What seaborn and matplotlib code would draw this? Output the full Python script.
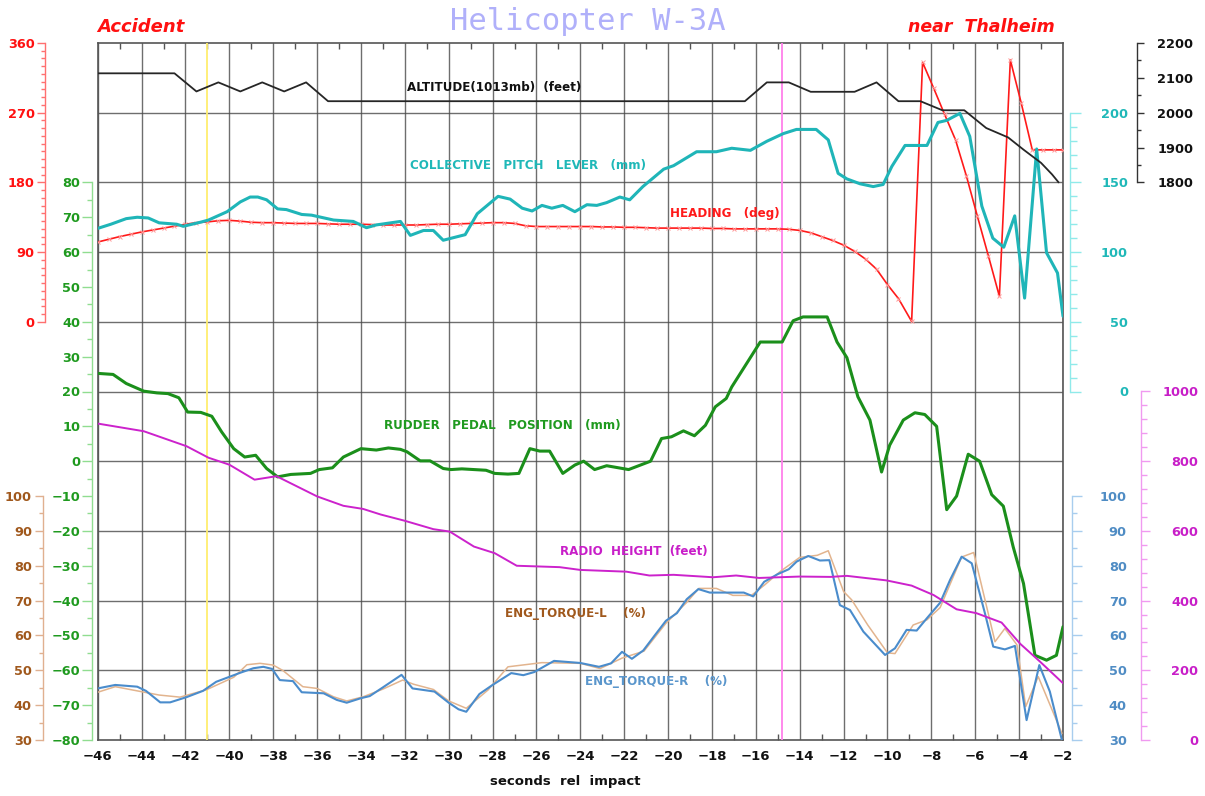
import numpy as np
import matplotlib
matplotlib.use("Agg")
import matplotlib.pyplot as plt
from matplotlib.ticker import FixedLocator
import seaborn as sns

# ---------------- data ----------------
ALT_T = [-46, -42.5, -41.5, -40.5, -39.5, -38.5, -37.5, -36.5, -35.5, -16.5, -15.5, -14.5,
         -13.5, -11.5, -10.5, -9.5, -8.5, -7.5, -6.5, -5.5, -4.5, -3.8, -3.0, -2.5, -2.2]
ALT = [2113, 2113, 2061, 2087, 2061, 2087, 2061, 2087, 2033, 2033, 2087, 2087,
       2060, 2060, 2087, 2033, 2033, 2007, 2007, 1956, 1929, 1894, 1856, 1823, 1800]

HDG_T = [-46.0, -45.5, -45.0, -44.5, -44.0, -43.5, -43.0, -42.5, -42.0, -41.5, -41.0, -40.5,
         -40.0, -39.5, -39.0, -38.5, -38.0, -37.5, -37.0, -36.5, -36.0, -35.5, -35.0, -34.5,
         -34.0, -33.5, -33.0, -32.5, -32.0, -31.5, -31.0, -30.5, -30.0, -29.5, -29.0, -28.5,
         -28.0, -27.5, -27.0, -26.5, -26.0, -25.5, -25.0, -24.5, -24.0, -23.5, -23.0, -22.5,
         -22.0, -21.5, -21.0, -20.5, -20.0, -19.5, -19.0, -18.5, -18.0, -17.5, -17.0, -16.5,
         -16.0, -15.5, -15.0, -14.5, -14.0, -13.5, -13.0, -12.5, -12.0, -11.5, -11.0, -10.5,
         -10.0, -9.5, -8.9, -8.4, -7.9, -7.4, -6.9, -6.4, -5.9, -5.4, -4.9, -4.4, -3.9, -3.4,
         -2.9, -2.4, -2.0]
HDG = [103, 106.5, 110, 113, 116, 118.5, 121, 123.5, 126, 128, 129, 130.5,
       131, 130, 128.5, 128, 128, 127.5, 127, 127, 127, 126.5, 126, 126,
       126, 125.5, 125, 125, 125, 125, 125.5, 126, 126, 126.5, 127, 127.5,
       128, 128, 127, 124, 123, 123, 123, 123, 123, 123, 122.5, 122.5,
       122, 122, 121.5, 121, 121, 121, 121, 121, 120.5, 120.5, 120, 120,
       120, 120, 120, 119.5, 118, 115, 110, 105, 99, 91, 81, 68,
       48, 30, 0.5, 335, 302, 268, 235, 188, 136, 85, 33, 338, 282, 222,
       222, 222, 222]

COL_T = [-46, -45.4, -44.7, -44.2, -43.7, -43.2, -42.4, -42.1, -41.3, -40.95, -40.1, -39.5,
         -39.05, -38.7, -38.3, -37.8, -37.4, -36.7, -36.25, -35.25, -34.35, -33.75, -33.3,
         -32.2, -31.75, -31.15, -30.7, -30.25, -29.25, -28.7, -27.75, -27.2, -26.65, -26.2,
         -25.75, -25.3, -24.8, -24.25, -23.7, -23.25, -22.8, -22.2, -21.75, -21.15, -20.2,
         -19.75, -18.7, -17.8, -17.1, -16.25, -15.5, -14.75, -14.15, -13.25, -12.7, -12.25,
         -11.85, -11.25, -10.65, -10.2, -9.8, -9.2, -8.2, -7.7, -7.3, -6.7, -6.25, -5.7,
         -5.2, -4.7, -4.2, -3.75, -3.2, -2.75, -2.25, -2.0]
COL = [117, 120, 124, 125, 124.5, 121, 120, 118.5, 121.5, 123, 129, 136,
       139.5, 139.5, 137.5, 131, 130.5, 127, 126.5, 123, 122, 117.5, 119.5,
       122, 112, 115.5, 115.5, 108.5, 112.5, 127.5, 140, 138, 131.5, 129.5,
       133.5, 131.5, 133.5, 129, 134, 133.5, 135.5, 139.5, 137.5, 147, 159.5,
       162, 172, 172, 174.5, 173, 179.5, 185, 188, 188, 180.5, 156.5,
       152.5, 149, 147, 148.5, 161.5, 176.5, 176.5, 193, 194.5, 199.5, 183, 133,
       110, 103.5, 126, 67, 174, 99.5, 85, 54]

RUD_T = [-46, -45.3, -44.7, -43.9, -43.3, -42.8, -42.3, -41.9, -41.3, -40.8, -40.35, -39.8,
         -39.3, -38.8, -38.3, -37.8, -37.2, -36.3, -35.9, -35.3, -34.8, -34.0, -33.3, -32.75,
         -32.2, -31.9, -31.3, -30.85, -30.25, -29.9, -29.4, -28.3, -27.9, -27.3, -26.8, -26.3,
         -25.85, -25.4, -24.8, -24.25, -23.85, -23.35, -22.8, -21.8, -20.8, -20.3, -19.85,
         -19.3, -18.8, -18.3, -17.85, -17.35, -17.1, -15.8, -14.8, -14.3, -13.85, -12.75,
         -12.3, -11.85, -11.35, -10.8, -10.27, -9.9, -9.28, -8.75, -8.3, -7.76, -7.3, -6.85,
         -6.32, -5.8, -5.25, -4.72, -4.27, -3.8, -3.28, -2.75, -2.3, -2.0]
RUD = [25.2, 24.9, 22.3, 20.1, 19.6, 19.4, 18.2, 14.1, 14.0, 12.9, 8.4, 3.6,
       1.2, 1.7, -2.1, -4.5, -3.8, -3.5, -2.4, -1.9, 1.2, 3.6, 3.2, 3.8,
       3.4, 2.7, 0.1, 0.1, -2.1, -2.4, -2.2, -2.6, -3.5, -3.7, -3.5, 3.6,
       2.9, 2.9, -3.5, -1.1, 0.0, -2.4, -1.3, -2.4, 0.0, 6.5, 7.0,
       8.7, 7.3, 10.3, 15.6, 18.0, 21.3, 34.2, 34.2, 40.3, 41.4, 41.4,
       34.2, 29.7, 18.5, 11.8, -3.1, 4.6, 11.8, 13.9, 13.4, 10.0, -13.9, -10.0,
       2.0, 0.0, -9.6, -12.9, -24.6, -35.1, -55.7, -57.1, -55.7, -47.5]

RAD_T = [-46, -43.9, -41.95, -40.95, -40.0, -38.85, -37.85, -36.0, -34.8, -33.9, -33.1, -32.0,
         -30.7, -29.95, -28.85, -27.9, -26.9, -24.95, -24.0, -21.9, -20.85, -19.75, -17.95,
         -16.9, -15.85, -14.0, -12.6, -11.85, -10.05, -8.9, -7.9, -6.85, -5.95, -4.8, -3.95,
         -3.05, -2.0]
RAD = [908, 886, 843, 810, 790, 747, 757, 699, 672, 663, 647, 629,
       605, 598, 555, 536, 500, 496, 488, 483, 472, 474, 467,
       472, 465, 469, 468, 471, 458, 443, 416, 375, 364, 337, 276,
       225, 163]

TQR_T = [-46, -45.2, -44.2, -43.8, -43.15, -42.7, -41.95, -41.2, -40.6, -39.5, -38.9, -38.45,
         -38.05, -37.7, -37.1, -36.7, -35.7, -35.1, -34.65, -34.0, -33.6, -33.0, -32.15,
         -31.65, -30.65, -30.0, -29.55, -29.2, -28.6, -28.0, -27.15, -26.6, -26.1, -25.2,
         -24.0, -23.15, -22.6, -22.1, -21.65, -21.13, -20.6, -20.1, -19.6, -19.15, -18.62,
         -18.1, -17.3, -16.55, -16.12, -15.62, -15.0, -14.5, -14.14, -13.61, -13.08, -12.65,
         -12.17, -11.71, -11.1, -10.11, -9.66, -9.13, -8.67, -8.21, -7.6, -7.15, -6.62,
         -6.16, -5.56, -5.18, -4.65, -4.19, -3.66, -3.08, -2.6, -2.05]
TQR = [44.8, 45.8, 45.3, 44.1, 40.8, 40.8, 42.3, 44.1, 46.7, 49.3, 50.6, 51.0,
       50.4, 47.2, 46.9, 43.7, 43.4, 41.5, 40.7, 42.0, 42.6, 45.1, 48.7,
       44.8, 43.9, 40.7, 38.8, 38.1, 43.2, 45.8, 49.2, 48.6, 49.5, 52.7,
       52.1, 51.0, 52.0, 55.3, 53.3, 55.7, 60.1, 64.2, 66.4, 70.4, 73.3,
       72.3, 72.3, 72.3, 71.2, 75.4, 77.6, 79.0, 81.2, 82.8, 81.5, 81.6,
       68.7, 67.3, 61.1, 54.4, 56.3, 61.6, 61.4, 64.9, 69.4, 75.9, 82.6,
       80.7, 66.4, 56.8, 56.0, 57.0, 35.7, 51.5, 43.9, 30.0]

TQL_T = [-46, -45.2, -44.2, -43.2, -42.25, -41.05, -39.8, -39.2, -38.6, -38.0, -37.55, -36.65,
         -36.0, -35.25, -34.65, -33.9, -33.0, -32.1, -31.6, -30.7, -30.0, -29.2, -28.2, -27.3,
         -25.75, -24.0, -23.1, -22.1, -21.6, -21.1, -20.1, -19.15, -18.6, -17.8, -17.05,
         -16.2, -15.6, -14.9, -14.0, -13.2, -12.7, -12.0, -11.63, -10.9, -10.0, -9.66, -8.83,
         -8.2, -7.6, -6.62, -6.07, -5.1, -4.65, -4.1, -3.7, -3.13, -2.05]
TQL = [43.7, 45.3, 44.1, 42.9, 42.3, 44.4, 48.0, 51.6, 52.0, 51.5, 49.9, 45.3,
       44.8, 42.4, 41.2, 42.4, 44.6, 47.2, 46.0, 44.5, 41.2, 39.1, 44.4, 51.0,
       52.2, 52.0, 50.5, 53.5, 54.5, 55.5, 63.5, 69.5, 73.5, 73.5, 71.5,
       71.5, 74.5, 78.3, 82.4, 83.0, 84.3, 72.6, 70.2, 63.0, 55.0, 54.8, 63.0,
       64.5, 68.0, 82.5, 83.8, 58.2, 62.0, 57.3, 39.6, 48.2, 31.9]

EVENT_LINES = [-41.0, -14.8]
X_TICKS = list(range(-46, -1, 2))

TITLE = "Helicopter W-3A"
LEFT_NOTE = "Accident"
RIGHT_NOTE = "near  Thalheim"
XLABEL = "seconds  rel  impact"

# ---------------- figure ----------------
sns.set_style("white")
plt.rcParams['font.family'] = ['DejaVu Sans']
plt.rcParams['axes.unicode_minus'] = True

W, H = 1205, 796
fig = plt.figure(figsize=(W / 100, H / 100), dpi=100)
px_l, px_r, px_t, px_b = 97.7, 1063.0, 43.0, 740.0
ax = fig.add_axes([px_l / W, 1 - px_b / H, (px_r - px_l) / W, (px_b - px_t) / H])
ax.set_xlim(-46, -2)
ax.set_ylim(0, 10)

def fmt(v):
    return str(int(round(v))).replace('-', '\u2212')

def side_axis(side, px, ylim, lo, hi, major, minor, spine_c, label_c, pad,
              lmaj, lmin, right_align=False):
    a = ax.twinx()
    a.set_ylim(*ylim)
    for s in a.spines.values():
        s.set_visible(False)
    sp = a.spines[side]
    sp.set_visible(True)
    sp.set_position(('axes', (px - px_l) / (px_r - px_l)))
    sp.set_bounds(lo, hi)
    sp.set_color(spine_c)
    sp.set_linewidth(1.0)
    a.yaxis.set_ticks_position(side)
    majors = np.arange(lo, hi + 1e-6, major)
    a.set_yticks(majors, [fmt(v) for v in majors])
    a.yaxis.set_minor_locator(FixedLocator(np.arange(lo, hi + 1e-6, minor)))
    a.tick_params(axis='y', which='major', direction='out', length=lmaj, width=1,
                  color=spine_c, labelcolor=label_c, labelsize=9.3, pad=pad)
    a.tick_params(axis='y', which='minor', direction='out', length=lmin, width=1,
                  color=spine_c)
    for t in a.get_yticklabels():
        t.set_fontweight('bold')
        if right_align:
            t.set_horizontalalignment('right')
    a.set_ylabel('')
    return a

# left side axes
a_hdg = side_axis('left', 45, (-540, 360), 0, 360, 90, 10, '#ff7070', '#ff1010', 1.5, 5.8, 3.0)
a_tql = side_axis('left', 43, (30, 230), 30, 100, 10, 5, '#e0b090', '#a0581c', 2.0, 6.0, 3.0)
a_rud = side_axis('left', 92, (-80, 120), -80, 80, 10, 5, '#90dd90', '#1f9a1f', 1.5, 7.0, 3.6)
# right side axes
a_col = side_axis('right', 1070, (-250, 250), 0, 200, 50, 10, '#90eaea', '#1fb8b8', 33.8, 8.0, 5.0, True)
a_tqr = side_axis('right', 1072, (30, 230), 30, 100, 10, 5, '#a8cdee', '#4f8cc4', 32.4, 7.0, 3.6, True)
a_alt = side_axis('right', 1137, (200, 2200), 1800, 2200, 100, 50, '#333333', '#111111', 9.5, 5.0, 3.0)
a_rad = side_axis('right', 1141, (0, 2000), 0, 1000, 200, 40, '#f09af0', '#c81ec8', 34.5, 6.7, 4.0, True)

# series
sns.lineplot(x=ALT_T, y=ALT, ax=a_alt, color='#262626', linewidth=1.3, sort=False)
sns.lineplot(x=TQL_T, y=TQL, ax=a_tql, color='#e2b48e', linewidth=1.1, sort=False)
sns.lineplot(x=TQR_T, y=TQR, ax=a_tqr, color='#4a8ccc', linewidth=1.5, sort=False)
sns.lineplot(x=RAD_T, y=RAD, ax=a_rad, color='#cc22cc', linewidth=1.4, sort=False)
sns.lineplot(x=RUD_T, y=RUD, ax=a_rud, color='#1b8f1b', linewidth=2.2, sort=False)
sns.lineplot(x=COL_T, y=COL, ax=a_col, color='#1fb5b8', linewidth=2.2, sort=False)
sns.lineplot(x=HDG_T, y=HDG, ax=a_hdg, color='#ff1a1a', linewidth=1.2, sort=False,
             marker='x', markersize=3, markeredgecolor='#ff9a9a', markeredgewidth=0.7)
for a in (a_alt, a_tql, a_tqr, a_rad, a_rud, a_col, a_hdg):
    a.set_ylabel('')
    a.set_xlabel('')

# event lines
ax.axvline(EVENT_LINES[0], color='#ffee70', lw=1.3, zorder=3)
ax.axvline(EVENT_LINES[1], color='#ff80ea', lw=1.3, zorder=3)

# main axes: grid, frame, x ticks
ax.set_xlim(-46, -2)
ax.set_xticks(X_TICKS, [fmt(v) for v in X_TICKS])
ax.xaxis.set_minor_locator(FixedLocator(list(range(-45, -2, 2))))
ax.set_yticks(range(1, 10))
ax.grid(True, which='major', color='#4a4a4a', linewidth=1.0, alpha=0.8)
ax.tick_params(axis='y', which='both', left=False, right=False, labelleft=False, labelright=False)
ax.tick_params(axis='x', which='major', length=0, labelsize=9.5, pad=7, labelcolor='#111111')
ax.tick_params(axis='x', which='minor', direction='in', length=4.5, width=1, color='#555555',
               top=True, bottom=True)
for t in ax.get_xticklabels():
    t.set_fontweight('bold')
for s in ax.spines.values():
    s.set_color('#555555')
    s.set_linewidth(1.2)
ax.set_xlabel('')

# series labels (axes-fraction positions)
def lab(xp, yp, s, c):
    ax.text((xp - px_l) / (px_r - px_l), (px_b - yp) / (px_b - px_t), s, color=c,
            transform=ax.transAxes, fontsize=8.6, fontweight='bold', ha='left', va='center',
            zorder=10)

lab(407, 88, "ALTITUDE(1013mb)  (feet)", '#111111')
lab(410, 165, "COLLECTIVE   PITCH   LEVER   (mm)", '#1fb8b8')
lab(670, 214, "HEADING   (deg)", '#ff1a1a')
lab(384, 426, "RUDDER   PEDAL   POSITION   (mm)", '#1f9a1f')
lab(560, 551, "RADIO  HEIGHT  (feet)", '#c81ec8')
lab(505, 613, "ENG_TORQUE-L    (%)", '#a0581c')
lab(585, 681, "ENG_TORQUE-R    (%)", '#5a96cc')

# titles
fig.text(588 / W, 1 - 21 / H, TITLE, color='#b0b0fa', fontsize=22, ha='center', va='center',
         family='DejaVu Sans Mono')
fig.text(97 / W, 1 - 27 / H, LEFT_NOTE, color='#ff1010', fontsize=13, fontweight='bold',
         style='italic', ha='left', va='center')
fig.text(1055 / W, 1 - 27 / H, RIGHT_NOTE, color='#ff1010', fontsize=12.5, fontweight='bold',
         style='italic', ha='right', va='center')
fig.text(565 / W, 1 - 782 / H, XLABEL, color='#111111', fontsize=9.5, fontweight='bold',
         ha='center', va='center')

fig.savefig("out.png", dpi=100, facecolor='white')
